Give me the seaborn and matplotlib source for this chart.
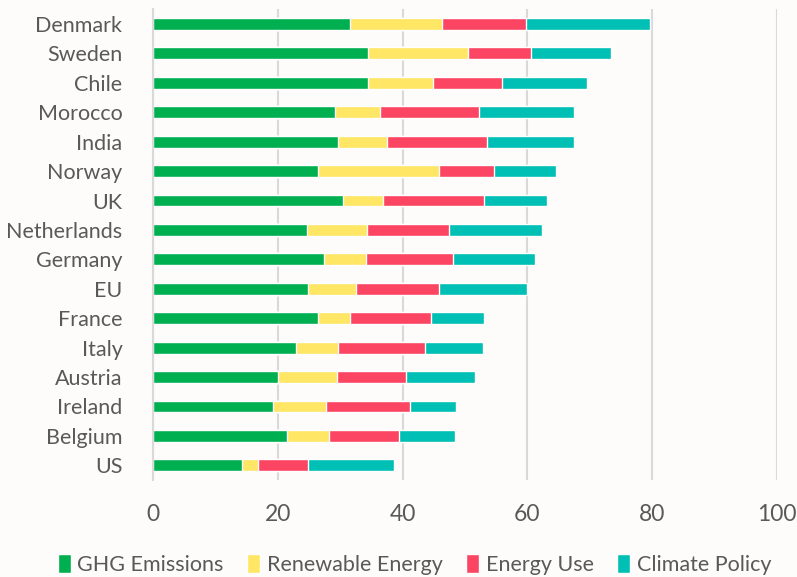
import pandas as pd
import matplotlib.pyplot as plt
import seaborn as sns
from matplotlib.patches import Patch

# values
countries = ['Denmark', 'Sweden', 'Chile', 'Morocco', 'India', 'Norway', 'UK',
             'Netherlands', 'Germany', 'EU', 'France', 'Italy', 'Austria',
             'Ireland', 'Belgium', 'US']
ghg_emissions = [31.5, 34.5, 34.5, 29.1, 29.7, 26.4, 30.4, 24.6, 27.4, 24.9,
                 26.5, 22.9, 20.1, 19.3, 21.5, 14.3]
renewable_energy = [14.8, 16.0, 10.3, 7.2, 7.8, 19.4, 6.5, 9.7, 6.8, 7.7,
                    5.0, 6.8, 9.4, 8.4, 6.7, 2.6]
energy_use = [13.5, 10.0, 11.1, 16.0, 16.0, 8.9, 16.2, 13.1, 13.8, 13.3,
              13.1, 13.9, 11.0, 13.4, 11.2, 8.0]
climate_policy = [19.9, 12.9, 13.7, 15.2, 13.9, 9.8, 10.0, 14.9, 13.2, 14.1,
                  8.4, 9.3, 11.1, 7.4, 9.0, 13.7]

series = ['GHG Emissions', 'Renewable Energy', 'Energy Use', 'Climate Policy']
colors = ['#00AF50', '#FFE664', '#FB4562', '#00BFB5']

df = pd.DataFrame({'Country': countries,
                   'GHG Emissions': ghg_emissions,
                   'Renewable Energy': renewable_energy,
                   'Energy Use': energy_use,
                   'Climate Policy': climate_policy})

# cumulative sums so the bars can be stacked
cum = df[series].cumsum(axis=1)
cum['Country'] = df['Country']

sns.set_style('white')
plt.rcParams['font.family'] = ['Lato', 'DejaVu Sans']
text_color = '#595959'

fig = plt.figure(figsize=(7.97, 5.77), dpi=100, facecolor='#FDFCFB')
ax = fig.add_axes([0.192, 0.168, 0.783, 0.816])
ax.set_facecolor('#FDFCFB')

# draw the longest (total) first, then the shorter cumulative parts on top
for name, col in reversed(list(zip(series, colors))):
    sns.barplot(data=cum, x=name, y='Country', color=col, width=0.4,
                saturation=1, ax=ax, order=countries)

ax.set_xlim(0, 100)
ax.set_xticks([0, 20, 40, 60, 80, 100])
ax.xaxis.grid(True, color='#D9D9D9', linewidth=1.5)
ax.set_axisbelow(True)
for s in ['top', 'right', 'bottom']:
    ax.spines[s].set_visible(False)
ax.spines['left'].set_color('#D9D9D9')
ax.spines['left'].set_linewidth(1.5)
ax.set_xlabel('')
ax.set_ylabel('')
ax.tick_params(axis='both', length=0, colors=text_color)
ax.tick_params(axis='y', labelsize=15.5, pad=22)
ax.tick_params(axis='x', labelsize=16.5, pad=17)

handles = [Patch(facecolor=c, label=s) for s, c in zip(series, colors)]
fig.legend(handles=handles, loc='lower center', bbox_to_anchor=(0.52, -0.03),
           ncol=4, frameon=False, fontsize=15.5, handlelength=0.6,
           handleheight=1.0, handletextpad=0.3, columnspacing=1.1,
           labelcolor=text_color)

fig.savefig('out.png', dpi=100, facecolor=fig.get_facecolor())
